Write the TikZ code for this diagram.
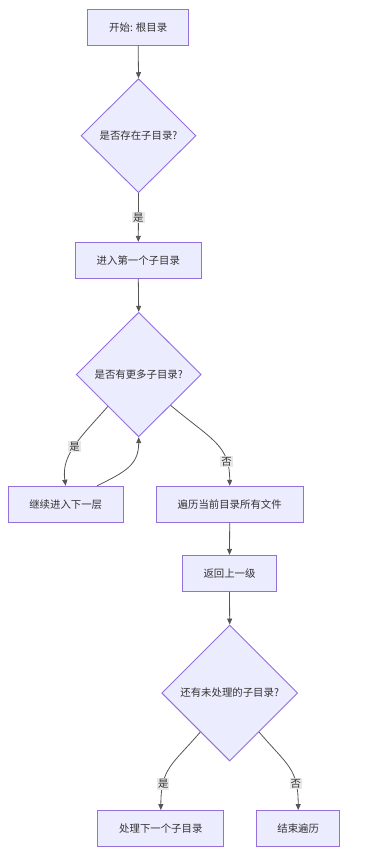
\documentclass[tikz,border=0pt]{standalone}
\usepackage{fontspec}
\newfontfamily\cjk{Noto Sans CJK SC}
\usetikzlibrary{shapes.geometric,arrows.meta}
\definecolor{nfill}{HTML}{ECECFF}
\definecolor{nstroke}{HTML}{9370DB}
\definecolor{txt}{HTML}{333333}
\definecolor{edgec}{HTML}{555555}
\definecolor{lblbg}{HTML}{E8E8E8}
\begin{document}
\begin{tikzpicture}[x=1pt,y=-1pt,
  every node/.style={font=\cjk\fontsize{10.4pt}{12pt}\selectfont, text=txt},
  box/.style={draw=nstroke, fill=nfill, line width=0.9pt, rectangle, inner sep=0pt, minimum height=36pt},
  dec/.style={draw=nstroke, fill=nfill, line width=0.9pt, diamond, shape aspect=1, inner sep=0pt},
  edge/.style={draw=edgec, line width=0.8pt, -{Triangle[length=6pt,width=5pt]}},
  lbl/.style={fill=lblbg, inner sep=1pt, font=\cjk\fontsize{10.4pt}{12pt}\selectfont}]
\useasboundingbox (0,0) rectangle (384,850);
\fill[white] (0,0) rectangle (384,850);

\node[box, minimum width=101pt] (s) at (138.2,27.2) {开始: 根目录};
\node[dec, minimum width=115pt, minimum height=114pt] (d1) at (138.5,135.7) {是否存在子目录?};
\node[box, minimum width=126pt] (b2) at (138.3,260.3) {进入第一个子目录};
\node[dec, minimum width=125pt, minimum height=124.5pt] (d2) at (138.7,374.5) {是否有更多子目录?};
\node[box, minimum width=115pt] (b3) at (65.7,504.2) {继续进入下一层};
\node[box, minimum width=147pt] (b4) at (229.7,504.2) {遍历当前目录所有文件};
\node[box, minimum width=94pt] (b5) at (229.5,573.3) {返回上一级};
\node[dec, minimum width=136pt, minimum height=136pt] (d3) at (229.7,693) {还有未处理的子目录?};
\node[box, minimum width=126pt] (b6) at (160.8,828.5) {处理下一个子目录};
\node[box, minimum width=83pt] (b7) at (298.2,828.5) {结束遍历};

\path (b3.north east) ++(-26.5,0) coordinate (b3r);

\draw[edge] (s.south) -- (d1.north);
\draw[edge] (d1.south) -- node[lbl] {是} (b2.north);
\draw[edge] (b2.south) -- (d2.north);
\draw[edge] (d2.226) .. controls (80,438) and (61,455) .. node[lbl,pos=0.5] {是} (b3.north);
\draw[edge] (b3r) .. controls (125,472) and (138.7,465) .. (d2.south);
\draw[edge] (d2.316) .. controls (212,440) and (229.7,445) .. node[lbl,pos=0.76] {否} (b4.north);
\draw[edge] (b4.south) -- (b5.north);
\draw[edge] (b5.south) -- (d3.north);
\draw[edge] (d3.233) .. controls (172,765) and (161,768) .. node[lbl,pos=0.74] {是} (b6.north);
\draw[edge] (d3.307) .. controls (287,765) and (298.2,768) .. node[lbl,pos=0.74] {否} (b7.north);
\end{tikzpicture}
\end{document}
